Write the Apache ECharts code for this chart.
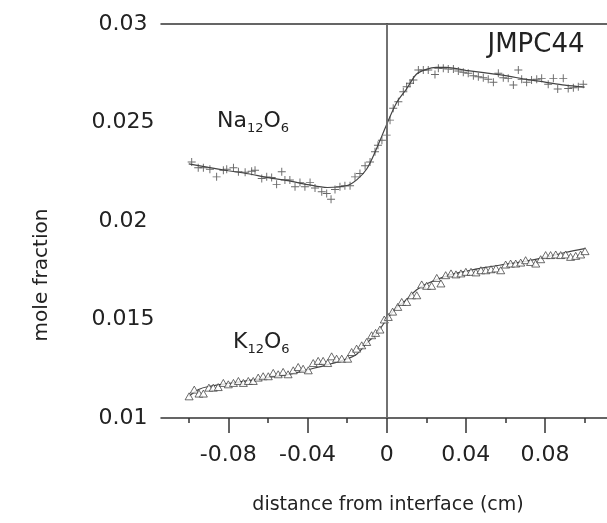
<!DOCTYPE html>
<html>
<head>
<meta charset="utf-8">
<script src="https://cdn.jsdelivr.net/npm/echarts@6/dist/echarts.min.js"></script>
<style>
html,body{margin:0;padding:0;background:#fff;}
#main{width:607px;height:523px;}
</style>
</head>
<body>
<div id="main"></div>
<script>
// ---- data ----
const naX = [-0.0985,-0.0952,-0.0926,-0.0893,-0.0859,-0.0825,-0.0808,-0.0774,-0.0749,-0.0715,-0.0682,-0.0665,-0.0631,-0.0606,-0.0581,-0.0556,-0.0530,-0.0514,-0.0489,-0.0463,-0.0438,-0.0413,-0.0387,-0.0362,-0.0328,-0.0303,-0.0281,-0.0261,-0.0236,-0.0211,-0.0185,-0.0160,-0.0135,-0.0109,-0.0084,-0.0059,-0.0044,-0.0024,
  0,0.0017,0.0033,0.0059,0.0084,0.0101,0.0118,0.0135,0.0160,0.0185,0.0210,0.0244,0.0261,0.0286,0.0311,0.0337,0.0362,0.0387,0.0412,0.0438,0.0463,0.0488,0.0513,0.0539,0.0564,0.0589,0.0614,0.0640,0.0665,0.0682,0.0707,0.0732,0.0758,0.0783,0.0816,0.0842,0.0864,0.0892,0.0917,0.0943,0.0968,0.0993];
const naY = [0.0230,0.0227,0.0227,0.02263,0.02224,0.02257,0.02263,0.0227,0.0225,0.02247,0.02253,0.02258,0.02216,0.02224,0.02221,0.02186,0.0225,0.02208,0.02208,0.02174,0.02196,0.02174,0.02196,0.02168,0.02148,0.0214,0.0211,0.0216,0.02174,0.02179,0.02179,0.02224,0.02241,0.0228,0.0230,0.02351,0.02385,0.0241,
  0.02436,0.02512,0.02572,0.02605,0.02656,0.02681,0.02699,0.02716,0.02766,0.02766,0.02766,0.02744,0.02775,0.02775,0.02771,0.02771,0.02761,0.02755,0.0275,0.02737,0.02732,0.02727,0.0272,0.02704,0.0275,0.02727,0.02724,0.0269,0.02766,0.0272,0.02704,0.02716,0.0272,0.02724,0.02694,0.02724,0.0267,0.02724,0.02673,0.02676,0.02681,0.02694];

const naFitX = [-0.1,-0.09,-0.08,-0.07,-0.06,-0.05,-0.04,-0.03,-0.02,-0.015,-0.01,-0.005,0,0.005,0.01,0.015,0.02,0.025,0.03,0.04,0.05,0.06,0.07,0.08,0.09,0.1];
const naFitY = [0.0229,0.02272,0.02255,0.0224,0.0222,0.02205,0.02185,0.0217,0.0218,0.0221,0.02265,0.0237,0.0249,0.0260,0.0267,0.02745,0.0277,0.0278,0.0278,0.02765,0.02752,0.02738,0.0272,0.02705,0.0269,0.0268];

const kX = [-0.0998,-0.0972,-0.0948,-0.0926,-0.0898,-0.0876,-0.0851,-0.0825,-0.0800,-0.0774,-0.0749,-0.0724,-0.0699,-0.0674,-0.0649,-0.0624,-0.0598,-0.0573,-0.0548,-0.0523,-0.0498,-0.0472,-0.0447,-0.0422,-0.0396,-0.0371,-0.0346,-0.0321,-0.0298,-0.0278,-0.0253,-0.0227,-0.0197,-0.0177,-0.0152,-0.0126,-0.0101,-0.0076,-0.0056,-0.0034,-0.0012,
  0.0008,0.0030,0.0056,0.0076,0.0101,0.0126,0.0152,0.0177,0.0202,0.0227,0.0253,0.0274,0.0298,0.0325,0.0350,0.0375,0.0400,0.0426,0.0451,0.0476,0.0501,0.0527,0.0552,0.0576,0.0601,0.0626,0.0652,0.0677,0.0702,0.0727,0.0753,0.0778,0.0803,0.0828,0.0854,0.0879,0.0904,0.0929,0.0955,0.0980,0.1002];
const kY = [0.0111,0.01144,0.01124,0.01124,0.01154,0.01154,0.01157,0.01178,0.01171,0.01178,0.01188,0.01178,0.01188,0.01188,0.01205,0.01212,0.01212,0.01229,0.01222,0.01234,0.01222,0.01242,0.01259,0.0125,0.01242,0.01279,0.0129,0.0129,0.01279,0.01313,0.01301,0.01301,0.01301,0.01335,0.01352,0.01369,0.01386,0.0142,0.01432,0.01449,0.0150,
  0.01513,0.0154,0.01564,0.01589,0.01589,0.01623,0.01623,0.01678,0.01671,0.01671,0.01711,0.01683,0.01725,0.01734,0.01729,0.01734,0.01742,0.01742,0.01739,0.0175,0.0175,0.01755,0.01759,0.0175,0.01779,0.01784,0.01784,0.01789,0.01801,0.01792,0.01784,0.01806,0.01827,0.01827,0.0183,0.01827,0.0183,0.01818,0.01823,0.0183,0.01847];

const kFitX = [-0.1,-0.095,-0.09,-0.08,-0.07,-0.06,-0.05,-0.04,-0.03,-0.02,-0.015,-0.01,-0.005,0,0.005,0.01,0.015,0.02,0.03,0.04,0.05,0.06,0.07,0.08,0.09,0.1];
const kFitY = [0.0111,0.01145,0.0116,0.01175,0.0119,0.01205,0.0122,0.01245,0.0127,0.0130,0.01325,0.0138,0.0143,0.0150,0.0156,0.0160,0.0165,0.0168,0.0172,0.01745,0.01765,0.0178,0.01795,0.01815,0.0184,0.0186];

const xMajorTicks = [-0.08,-0.04,0,0.04,0.08];
const xMinorTicks = [-0.1,-0.06,-0.02,0.02,0.06,0.1];
const yTicks = [0.01,0.015,0.02,0.025,0.03];
const titleText = 'JMPC44';
const xName = 'distance from interface (cm)';
const yName = 'mole fraction';

// ---- chart ----
const zip = (a,b) => a.map((v,i)=>[v,b[i]]);
const FONT = 'DejaVu Sans';
const AX = '#333';
const XMIN = -0.114, XMAX = 0.1113;

const chart = echarts.init(document.getElementById('main'), null, {renderer:'canvas'});
chart.setOption({
  animation:false,
  backgroundColor:'#fff',
  grid:{left:161,right:0,top:24,bottom:105},
  xAxis:[
    {type:'value',min:XMIN,max:XMAX,position:'bottom',
     axisLine:{show:true,lineStyle:{color:AX,width:1.5}},
     axisTick:{show:true,customValues:xMajorTicks,length:15,lineStyle:{color:AX,width:1.5}},
     axisLabel:{show:true,customValues:xMajorTicks,margin:26,fontSize:22,fontFamily:FONT,color:'#222',
       formatter:v=>String(Math.round(v*100)/100)},
     splitLine:{show:false}},
    {type:'value',min:XMIN,max:XMAX,position:'bottom',offset:0,
     axisLine:{show:false},
     axisTick:{show:true,customValues:xMinorTicks,length:5,lineStyle:{color:AX,width:1.5}},
     axisLabel:{show:false},splitLine:{show:false}},
    {type:'value',min:XMIN,max:XMAX,position:'top',
     axisLine:{show:true,lineStyle:{color:AX,width:1.5}},
     axisTick:{show:false},axisLabel:{show:false},splitLine:{show:false}}
  ],
  yAxis:[{type:'value',min:0.01,max:0.03,interval:0.005,
    axisLine:{show:true,lineStyle:{color:AX,width:1.5}},
    axisTick:{show:false},
    axisLabel:{customValues:yTicks,align:'center',margin:38,fontSize:22,fontFamily:FONT,color:'#222',
      formatter:v=>String(Math.round(v*1000)/1000)},
    splitLine:{show:false}}],
  series:[
    {type:'line',name:'Na fit',data:zip(naFitX,naFitY),smooth:0.3,showSymbol:false,
     lineStyle:{color:'#444',width:1.2},z:2,
     markLine:{silent:true,symbol:'none',label:{show:false},
       lineStyle:{color:'#777',type:'solid',width:1.5},data:[{xAxis:0}]}},
    {type:'line',name:'K fit',data:zip(kFitX,kFitY),smooth:0.3,showSymbol:false,
     lineStyle:{color:'#444',width:1.2},z:2},
    {type:'scatter',name:'Na12O6',data:zip(naX,naY),
     symbol:'path://M4.4,0H5.6V4.4H10V5.6H5.6V10H4.4V5.6H0V4.4H4.4Z',symbolSize:8,
     itemStyle:{color:'#444'},z:3},
    {type:'scatter',name:'K12O6',data:zip(kX,kY),
     symbol:'triangle',symbolSize:[8,7],
     itemStyle:{color:'#fff',borderColor:'#333',borderWidth:0.9},z:3}
  ],
  graphic:[
    {type:'text',x:42,y:275,rotation:Math.PI/2,
     style:{text:yName,fontSize:20,fontFamily:FONT,fill:'#222',align:'center',verticalAlign:'middle'}},
    {type:'text',x:388,y:505,
     style:{text:xName,fontSize:19,fontFamily:FONT,fill:'#222',align:'center',verticalAlign:'middle'}},
    {type:'text',x:536,y:45,
     style:{text:titleText,fontSize:26,fontFamily:FONT,fill:'#222',align:'center',verticalAlign:'middle'}},
    {type:'text',x:217,y:129,
     style:{text:'{n|Na}{s|12}{n|O}{s|6}',align:'left',verticalAlign:'middle',fill:'#222',
       rich:{n:{fontSize:22,lineHeight:22,verticalAlign:'top',fontFamily:FONT,fill:'#222'},
             s:{fontSize:13,lineHeight:38,fontFamily:FONT,fill:'#222'}}}},
    {type:'text',x:233,y:350,
     style:{text:'{n|K}{s|12}{n|O}{s|6}',align:'left',verticalAlign:'middle',fill:'#222',
       rich:{n:{fontSize:22,lineHeight:22,verticalAlign:'top',fontFamily:FONT,fill:'#222'},
             s:{fontSize:13,lineHeight:38,fontFamily:FONT,fill:'#222'}}}}
  ]
});
</script>
</body>
</html>
